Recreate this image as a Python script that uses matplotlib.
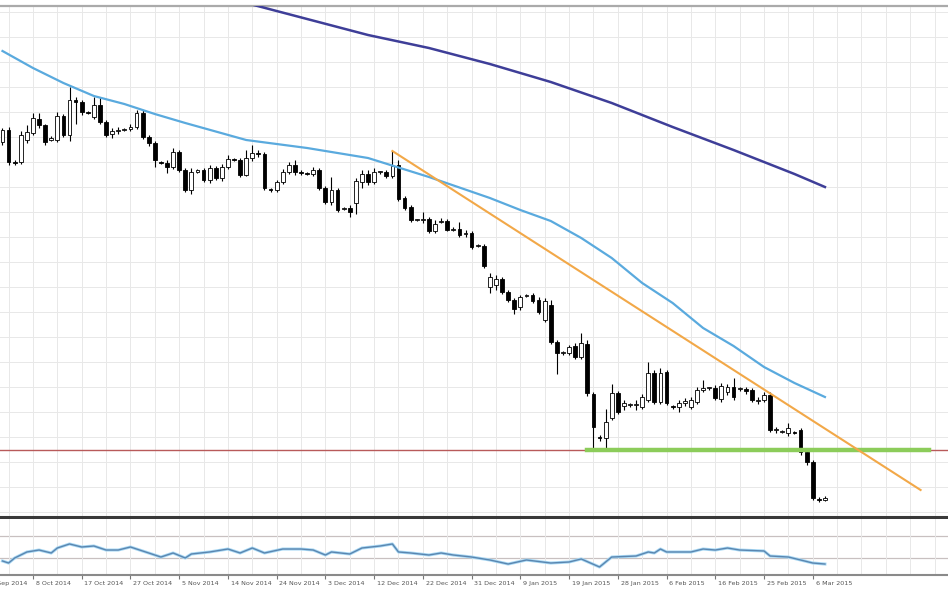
import numpy as np
import matplotlib
matplotlib.use("Agg")
import matplotlib.pyplot as plt
from matplotlib.transforms import ScaledTranslation

# === DATI (EUR/USD giornaliero) ===
opens = [
    1.2617, 1.2677, 1.2517, 1.2517, 1.2627, 1.2662, 1.2732, 1.2702, 1.2627, 1.2627,
    1.2747, 1.2652, 1.2827, 1.2817, 1.2767, 1.2742, 1.2802, 1.2717, 1.2657, 1.2672,
    1.2677, 1.2682, 1.2692, 1.2762, 1.2642, 1.2612, 1.2517, 1.2512, 1.2492, 1.2567,
    1.2477, 1.2377, 1.2467, 1.2477, 1.2427, 1.2487, 1.2437, 1.2492, 1.2532, 1.2527,
    1.2452, 1.2537, 1.2562, 1.2557, 1.2382, 1.2377, 1.2417, 1.2467, 1.2502, 1.2467,
    1.2462, 1.2457, 1.2477, 1.2387, 1.2317, 1.2377, 1.2282, 1.2287, 1.2312, 1.2417,
    1.2457, 1.2417, 1.2467, 1.2467, 1.2447, 1.2502, 1.2337, 1.2292, 1.2227, 1.2227,
    1.2232, 1.2172, 1.2217, 1.2222, 1.2177, 1.2182, 1.2157, 1.2162, 1.2097, 1.2097,
    1.1892, 1.1902, 1.1932, 1.1867, 1.1827, 1.1792, 1.1847, 1.1852, 1.1827, 1.1727,
    1.1802, 1.1617, 1.1562, 1.1562, 1.1597, 1.1542, 1.1607, 1.1357, 1.1142, 1.1137,
    1.1237, 1.1362, 1.1297, 1.1302, 1.1302, 1.1292, 1.1327, 1.1462, 1.1317, 1.1467,
    1.1297, 1.1292, 1.1312, 1.1292, 1.1317, 1.1377, 1.1387, 1.1387, 1.1332, 1.1367,
    1.1392, 1.1382, 1.1382, 1.1377, 1.1322, 1.1327, 1.1352, 1.1177, 1.1167, 1.1162,
    1.1167, 1.1177, 1.1067, 1.1017, 1.0832, 1.0827,
]
highs = [
    1.2687, 1.2692, 1.2527, 1.2672, 1.2702, 1.2762, 1.2762, 1.2707, 1.2647, 1.2767,
    1.2757, 1.2892, 1.2842, 1.2827, 1.2772, 1.2842, 1.2842, 1.2727, 1.2687, 1.2692,
    1.2687, 1.2707, 1.2777, 1.2777, 1.2652, 1.2622, 1.2522, 1.2527, 1.2587, 1.2577,
    1.2487, 1.2487, 1.2482, 1.2487, 1.2502, 1.2497, 1.2507, 1.2552, 1.2537, 1.2537,
    1.2577, 1.2602, 1.2577, 1.2567, 1.2387, 1.2427, 1.2482, 1.2517, 1.2527, 1.2477,
    1.2467, 1.2492, 1.2487, 1.2397, 1.2442, 1.2387, 1.2292, 1.2302, 1.2437, 1.2477,
    1.2477, 1.2487, 1.2472, 1.2477, 1.2572, 1.2527, 1.2347, 1.2302, 1.2232, 1.2267,
    1.2242, 1.2227, 1.2237, 1.2232, 1.2192, 1.2217, 1.2177, 1.2172, 1.2107, 1.2107,
    1.1962, 1.1952, 1.1942, 1.1877, 1.1837, 1.1852, 1.1857, 1.1862, 1.1842, 1.1837,
    1.1827, 1.1627, 1.1572, 1.1602, 1.1612, 1.1662, 1.1627, 1.1367, 1.1152, 1.1282,
    1.1407, 1.1372, 1.1327, 1.1312, 1.1327, 1.1357, 1.1517, 1.1477, 1.1487, 1.1477,
    1.1302, 1.1327, 1.1337, 1.1342, 1.1392, 1.1427, 1.1392, 1.1402, 1.1412, 1.1407,
    1.1437, 1.1392, 1.1392, 1.1387, 1.1342, 1.1367, 1.1367, 1.1192, 1.1177, 1.1212,
    1.1172, 1.1187, 1.1077, 1.1027, 1.0842, 1.0847,
]
lows = [
    1.2602, 1.2502, 1.2502, 1.2507, 1.2612, 1.2652, 1.2687, 1.2602, 1.2622, 1.2617,
    1.2642, 1.2622, 1.2707, 1.2752, 1.2757, 1.2732, 1.2707, 1.2642, 1.2637, 1.2657,
    1.2672, 1.2672, 1.2682, 1.2632, 1.2597, 1.2492, 1.2507, 1.2462, 1.2482, 1.2467,
    1.2367, 1.2357, 1.2462, 1.2417, 1.2412, 1.2427, 1.2422, 1.2482, 1.2522, 1.2442,
    1.2447, 1.2522, 1.2542, 1.2377, 1.2367, 1.2367, 1.2407, 1.2457, 1.2452, 1.2452,
    1.2452, 1.2447, 1.2377, 1.2307, 1.2302, 1.2267, 1.2277, 1.2242, 1.2257, 1.2387,
    1.2402, 1.2407, 1.2457, 1.2437, 1.2437, 1.2322, 1.2277, 1.2217, 1.2222, 1.2212,
    1.2162, 1.2162, 1.2212, 1.2172, 1.2172, 1.2142, 1.2142, 1.2082, 1.2092, 1.1987,
    1.1862, 1.1877, 1.1857, 1.1817, 1.1757, 1.1777, 1.1842, 1.1812, 1.1757, 1.1717,
    1.1607, 1.1457, 1.1552, 1.1552, 1.1532, 1.1532, 1.1347, 1.1087, 1.1122, 1.1087,
    1.1227, 1.1257, 1.1277, 1.1292, 1.1277, 1.1282, 1.1317, 1.1307, 1.1307, 1.1302,
    1.1282, 1.1267, 1.1297, 1.1282, 1.1307, 1.1367, 1.1377, 1.1327, 1.1317, 1.1352,
    1.1327, 1.1372, 1.1357, 1.1317, 1.1307, 1.1317, 1.1167, 1.1162, 1.1162, 1.1147,
    1.1157, 1.1052, 1.1002, 1.0827, 1.0817, 1.0822,
]
closes = [
    1.2677, 1.2517, 1.2512, 1.2652, 1.2667, 1.2737, 1.2702, 1.2617, 1.2637, 1.2747,
    1.2652, 1.2827, 1.2817, 1.2767, 1.2762, 1.2802, 1.2717, 1.2652, 1.2672, 1.2677,
    1.2682, 1.2692, 1.2762, 1.2642, 1.2612, 1.2527, 1.2512, 1.2492, 1.2567, 1.2477,
    1.2377, 1.2467, 1.2477, 1.2427, 1.2487, 1.2437, 1.2492, 1.2532, 1.2527, 1.2452,
    1.2537, 1.2562, 1.2557, 1.2387, 1.2377, 1.2417, 1.2467, 1.2502, 1.2467, 1.2462,
    1.2457, 1.2477, 1.2387, 1.2317, 1.2377, 1.2277, 1.2287, 1.2267, 1.2422, 1.2457,
    1.2417, 1.2467, 1.2467, 1.2447, 1.2497, 1.2332, 1.2287, 1.2227, 1.2227, 1.2232,
    1.2172, 1.2207, 1.2222, 1.2177, 1.2182, 1.2152, 1.2162, 1.2092, 1.2102, 1.1997,
    1.1942, 1.1932, 1.1867, 1.1827, 1.1782, 1.1842, 1.1852, 1.1822, 1.1767, 1.1822,
    1.1617, 1.1562, 1.1562, 1.1592, 1.1542, 1.1612, 1.1362, 1.1192, 1.1137, 1.1217,
    1.1362, 1.1267, 1.1312, 1.1302, 1.1307, 1.1342, 1.1462, 1.1317, 1.1462, 1.1312,
    1.1292, 1.1312, 1.1322, 1.1327, 1.1377, 1.1387, 1.1387, 1.1337, 1.1397, 1.1392,
    1.1342, 1.1387, 1.1372, 1.1327, 1.1327, 1.1352, 1.1177, 1.1177, 1.1167, 1.1187,
    1.1162, 1.1067, 1.1017, 1.0837, 1.0827, 1.0837,
]

# medie mobili (lette a campione sulle barre)
ma_fast_idx = [0, 5, 10, 15, 20, 25, 30, 40, 50, 60, 70, 80, 85, 90, 95, 100, 105, 110, 115, 120, 125, 130, 135]
ma_fast = [1.3072, 1.2987, 1.2912, 1.2847, 1.2807, 1.2757, 1.2712, 1.2627, 1.2587, 1.2537, 1.2442, 1.2337,
           1.2277, 1.2222, 1.2137, 1.2037, 1.1912, 1.1812, 1.1687, 1.1597, 1.1492, 1.1412, 1.1342]
ma_slow_idx = [30, 40, 50, 60, 70, 80, 90, 100, 110, 120, 130, 135]
ma_slow = [1.3387, 1.3312, 1.3232, 1.3152, 1.3087, 1.3007, 1.2917, 1.2812, 1.2692, 1.2577, 1.2457, 1.2392]

# linea di tendenza e supporto
trend_idx = [64, 150.7]
trend_val = [1.2572, 1.0877]
support = 1.1077
support_idx = [96, 152]

# oscillatore (RSI) nel pannello sotto
rsi_idx = [0, 1, 2, 4, 6, 8, 9, 11, 13, 15, 17, 19, 21, 24, 26, 28, 30, 31, 34, 37, 39, 41, 43, 46, 49,
           51, 53, 54, 57, 59, 62, 64, 65, 67, 70, 72, 74, 77, 80, 83, 86, 90, 93, 95, 98, 100, 104,
           106, 107, 108, 109, 113, 115, 117, 119, 121, 125, 126, 129, 131, 133, 135]
rsi = [25.0, 21.4, 30.4, 41.1, 44.6, 39.3, 48.2, 55.4, 50.0, 51.8, 44.6, 44.6, 50.0, 39.3, 32.1, 39.3,
       30.4, 37.5, 41.1, 46.4, 39.3, 48.2, 39.3, 46.4, 46.4, 44.6, 35.7, 41.1, 37.5, 48.2, 51.8, 55.4,
       41.1, 39.3, 35.7, 39.3, 35.7, 32.1, 26.8, 19.6, 26.8, 21.4, 23.2, 28.6, 14.3, 32.1, 33.9,
       41.1, 39.3, 46.4, 41.1, 41.1, 46.4, 44.6, 48.2, 44.6, 42.9, 33.9, 32.1, 26.8, 21.4, 19.6]
rsi_levels = [70, 30]

date_labels = ['29 Sep 2014', '8 Oct 2014', '17 Oct 2014', '27 Oct 2014', '5 Nov 2014', '14 Nov 2014',
               '24 Nov 2014', '3 Dec 2014', '12 Dec 2014', '22 Dec 2014', '31 Dec 2014', '9 Jan 2015',
               '19 Jan 2015', '28 Jan 2015', '6 Feb 2015', '16 Feb 2015', '25 Feb 2015', '6 Mar 2015']

# === GRAFICO ===
fig = plt.figure(figsize=(9.48, 5.93), dpi=100)
fig.patch.set_facecolor('white')
ax = fig.add_axes([0, 0.12816, 1, 0.86172])
axr = fig.add_axes([0, 0.03035, 1, 0.09444], sharex=ax)

o = np.array(opens)
c = np.array(closes)
x = np.arange(len(o))
up = c >= o

# candele
ax.vlines(x, lows, highs, color='black', lw=0.8, zorder=3)
ax.bar(x, np.maximum(np.abs(c - o), 0.0003), bottom=np.minimum(o, c), width=0.62,
       color=np.where(up, 'white', 'black'), edgecolor='black', linewidth=0.6, zorder=4)

# medie mobili, trend, supporto
ax.plot(ma_fast_idx, ma_fast, color='#5aaade', lw=1.6, zorder=5)
ax.plot(ma_slow_idx, ma_slow, color='#3e3e98', lw=1.8, zorder=5)
ax.plot(trend_idx, trend_val, color='#f2a848', lw=1.5, zorder=5)
ax.axhline(support, color='#b85a5a', lw=1.0, zorder=2)
ax.plot(support_idx, [support, support], color='#8ccc5a', lw=3.2, zorder=4.5)

# griglia
bar_step = 8
first_tick = -3
ticks = first_tick + bar_step * np.arange(len(date_labels))
minor = first_tick + (bar_step // 2) * np.arange(2 * len(date_labels) + 4)
for a in (ax, axr):
    a.set_xticks(ticks)
    a.set_xticks(minor, minor=True)
    a.grid(True, which='both', axis='x', color='#e8e8e8', lw=0.7, zorder=0)
    a.set_facecolor('white')
    for s in ('left', 'right'):
        a.spines[s].set_visible(False)

ax.set_yticks(np.arange(1.0767, 1.335, 0.0125))
ax.grid(True, axis='y', color='#e8e8e8', lw=0.7, zorder=0)
ax.set_ylim(1.0742, 1.3297)
ax.set_xlim(-0.41, 155.2)
ax.tick_params(axis='both', which='both', length=0, labelleft=False, labelbottom=False)
ax.spines['top'].set_color('#aaaaaa')
ax.spines['top'].set_linewidth(1.6)
ax.spines['bottom'].set_color('#3a3a3a')
ax.spines['bottom'].set_linewidth(2.2)

# pannello oscillatore
axr.plot(rsi_idx, rsi, color='#a8d8f4', lw=2.2, zorder=3)
axr.plot(rsi_idx, rsi, color='#5a86b0', lw=1.0, zorder=4)
for lev in rsi_levels:
    axr.axhline(lev, color='#c8c0c0', lw=0.9, zorder=1)
axr.set_ylim(0, 100)
axr.set_yticks([])
axr.spines['top'].set_visible(False)
axr.spines['bottom'].set_color('#8a8a8a')
axr.spines['bottom'].set_linewidth(1.5)
axr.tick_params(axis='x', which='major', length=3, color='#777777', pad=1.5,
                labelsize=4.6, labelcolor='#555555')
axr.tick_params(axis='x', which='minor', length=0)
axr.set_xticklabels(date_labels, ha='left')
shift = ScaledTranslation(2 / 72, 0, fig.dpi_scale_trans)
for lab in axr.get_xticklabels():
    lab.set_transform(lab.get_transform() + shift)

# prima etichetta, tagliata dal bordo sinistro come nell'originale
axr.text(ticks[0], 0, date_labels[0], transform=axr.get_xaxis_transform() + shift
         + ScaledTranslation(0, -4.5 / 72, fig.dpi_scale_trans),
         ha='left', va='top', fontsize=4.6, color='#555555', clip_on=False)

fig.savefig('out.png', dpi=100, facecolor='white')
